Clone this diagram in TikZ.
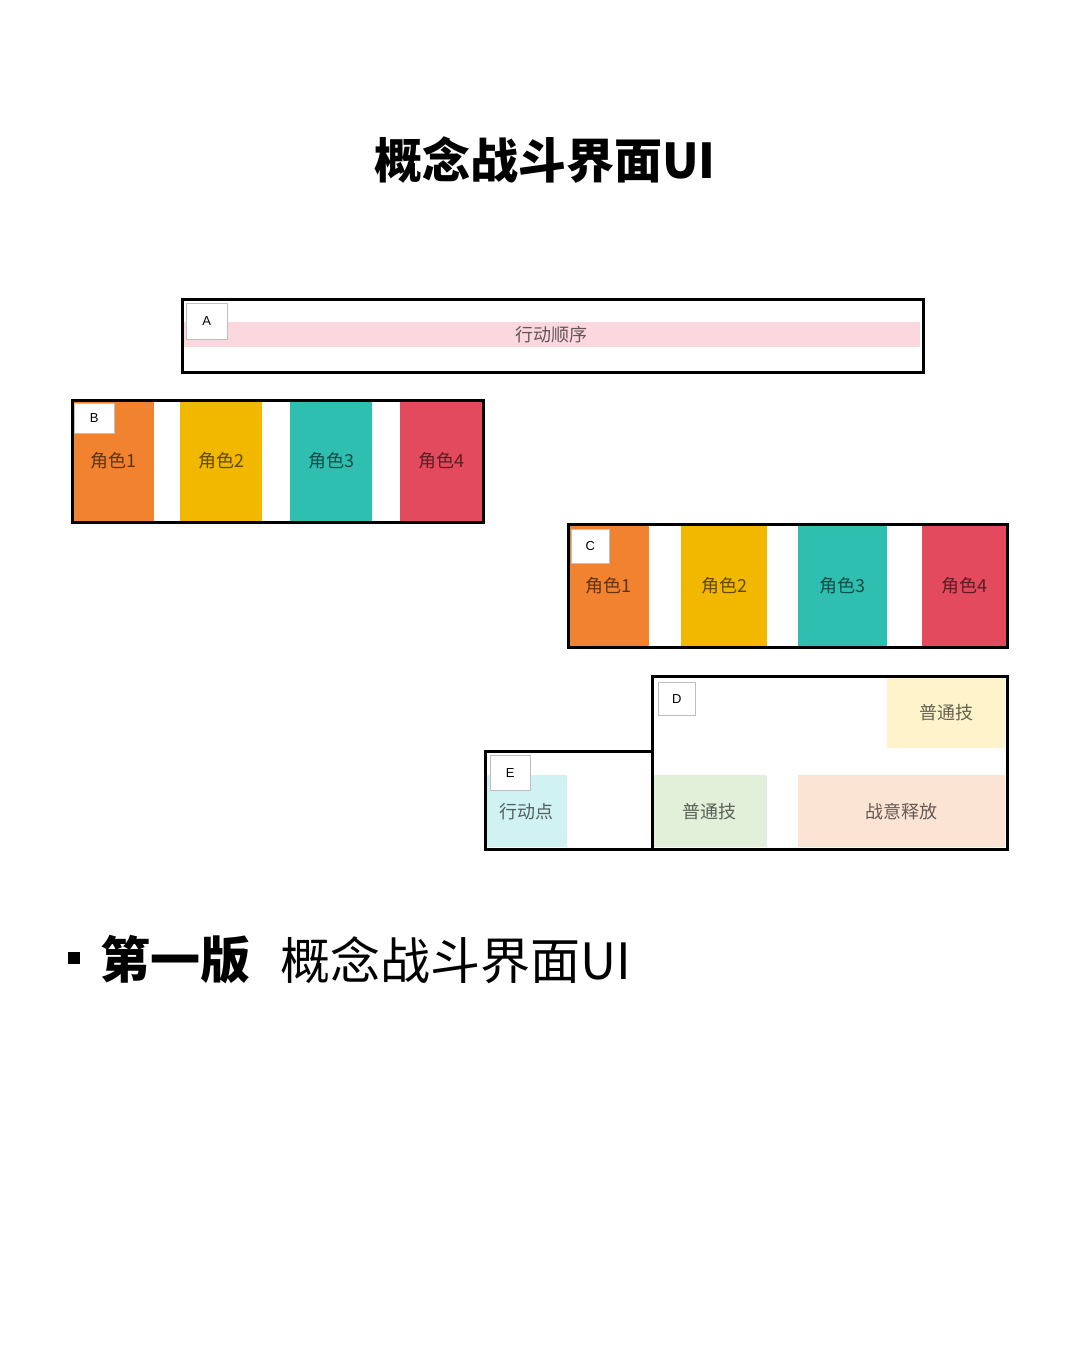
\documentclass[tikz,border=0pt]{standalone}
\usepackage{fontspec}
\setmainfont{Noto Sans CJK SC}
\newfontfamily\tagfont{Liberation Sans}
\usetikzlibrary{positioning}
\definecolor{roleorange}{RGB}{240,130,48}
\definecolor{roleyellow}{RGB}{242,184,0}
\definecolor{roleteal}{RGB}{46,191,177}
\definecolor{rolered}{RGB}{228,74,93}
\definecolor{bandpink}{RGB}{250,216,222}
\definecolor{skillyellow}{RGB}{255,243,204}
\definecolor{skillgreen}{RGB}{226,240,217}
\definecolor{skillpeach}{RGB}{252,228,212}
\definecolor{pointcyan}{RGB}{208,242,242}

\begin{document}
\begin{tikzpicture}[x=1pt,y=-1pt,
	panel/.style={draw, line width=2.5pt, inner sep=0pt, anchor=north west},
	cell/.style={inner sep=0pt, anchor=north west, text=black, text opacity=0.6, font=\fontsize{18}{20}\selectfont},
	tag/.style={draw=black!25, fill=white, inner sep=0pt, anchor=north west, minimum width=39pt, minimum height=34pt, font=\tagfont\fontsize{13}{15}\selectfont}]
			\useasboundingbox (0,0) rectangle (1080,1345);

			\node[font=\bfseries\fontsize{48}{52}\selectfont] (title) at (545,160) {概念战斗界面UI};

			% A: action order
			\node[cell, fill=bandpink, minimum width=737pt, minimum height=25pt] (order) at (183,322) {行动顺序};
			\node[panel, minimum width=741pt, minimum height=73pt] (A) at (181,298) {};
			\node[tag, minimum width=41pt, minimum height=36pt] (tagA) at (186,303) {A};

			% B: roles
			\foreach \i/\x/\c in {1/72/roleorange, 2/180/roleyellow, 3/290/roleteal, 4/400/rolered}
				\node[cell, fill=\c, minimum width=82pt, minimum height=121pt] (b\i) at (\x,400) {角色\i};
			\node[panel, minimum width=411pt, minimum height=122pt] (B) at (71,399) {};
			\node[tag, minimum width=40pt, minimum height=30pt] (tagB) at (74,403) {B};

			% C: roles
			\foreach \i/\x/\w/\c in {1/568/81/roleorange, 2/681/86/roleyellow, 3/798/89/roleteal, 4/922/84/rolered}
				\node[cell, fill=\c, minimum width=\w pt, minimum height=122pt] (c\i) at (\x,524) {角色\i};
			\node[panel, minimum width=439pt, minimum height=123pt] (C) at (567,523) {};
			\node[tag, minimum width=38pt] (tagC) at (571,529) {C};

			% D: skills
			\node[cell, fill=skillyellow, minimum width=118pt, minimum height=72pt] (d1) at (887,676) {普通技};
			\node[cell, fill=skillgreen, minimum width=115pt, minimum height=72pt] (d2) at (652,775) {普通技};
			\node[cell, fill=skillpeach, minimum width=207pt, minimum height=72pt] (d3) at (798,775) {战意释放};
			\node[panel, minimum width=355pt, minimum height=173pt] (D) at (651,675) {};
			\node[tag, minimum width=37pt, minimum height=33pt] (tagD) at (658,682) {D};

			% E: action points
			\node[cell, fill=pointcyan, minimum width=82pt, minimum height=72pt] (e1) at (485,775) {行动点};
			\node[panel, minimum width=167pt, minimum height=98pt] (E) at (484,750) {};
			\node[tag, minimum width=40pt, minimum height=35pt] (tagE) at (490,755) {E};

			% caption
			\node[fill=black, inner sep=0pt, minimum size=12pt] (dot) at (73.5,958) {};
			\node[anchor=west, inner sep=0pt, font=\bfseries\fontsize{50}{54}\selectfont] (ver) at (100,960) {第一版};
			\node[right=30pt of ver, inner sep=0pt, font=\fontsize{50}{54}\selectfont] (name) {概念战斗界面UI};
		\end{tikzpicture}
\end{document}
